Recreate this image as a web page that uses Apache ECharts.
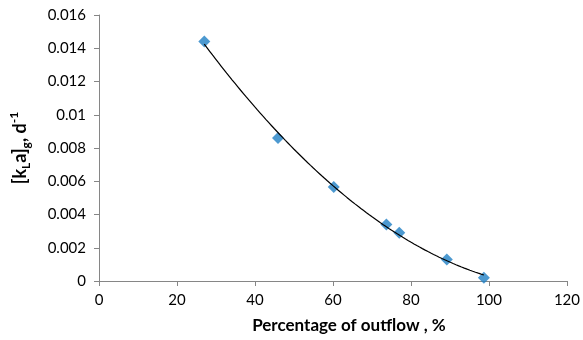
<!DOCTYPE html>
<html><head><meta charset="utf-8">
<script src="https://cdn.jsdelivr.net/npm/echarts@6/dist/echarts.min.js"></script>
<style>html,body{margin:0;padding:0;background:#fff}#c{width:583px;height:340px}</style>
</head><body><div id="c"></div>
<script>
const outflow = [27.0, 45.9, 60.2, 73.7, 77.0, 89.2, 98.7];
const klag = [0.0144, 0.0086, 0.00566, 0.0034, 0.0029, 0.0013, 0.0002];
const xTicks = [0, 20, 40, 60, 80, 100, 120];
const yTicks = [0, 0.002, 0.004, 0.006, 0.008, 0.01, 0.012, 0.014, 0.016];

// quadratic least-squares trendline (like Excel polynomial trendline)
function polyfit(xs, ys, deg) {
  const n = deg + 1;
  const A = Array.from({length: n}, () => new Array(n + 1).fill(0));
  for (let k = 0; k < xs.length; k++) {
    for (let i = 0; i < n; i++) {
      for (let j = 0; j < n; j++) A[i][j] += Math.pow(xs[k], i + j);
      A[i][n] += ys[k] * Math.pow(xs[k], i);
    }
  }
  for (let i = 0; i < n; i++) {
    let p = i;
    for (let r = i + 1; r < n; r++) if (Math.abs(A[r][i]) > Math.abs(A[p][i])) p = r;
    [A[i], A[p]] = [A[p], A[i]];
    for (let r = 0; r < n; r++) {
      if (r === i) continue;
      const f = A[r][i] / A[i][i];
      for (let c = i; c <= n; c++) A[r][c] -= f * A[i][c];
    }
  }
  return A.map((row, i) => row[n] / row[i]);
}
const coef = polyfit(outflow, klag, 2);
const xMin = Math.min(...outflow), xMax = Math.max(...outflow);
const trend = [];
for (let i = 0; i <= 100; i++) {
  const x = xMin + (xMax - xMin) * i / 100;
  trend.push([x, coef[0] + coef[1] * x + coef[2] * x * x]);
}

const chart = echarts.init(document.getElementById('c'));
const font = 'Lato';
chart.setOption({
  animation: false,
  grid: {left: 96, right: 15, top: 15, bottom: 59},
  xAxis: {
    type: 'value', min: xTicks[0], max: xTicks[xTicks.length - 1], interval: 20,
    name: 'Percentage of outflow , %', nameLocation: 'middle', nameGap: 36,
    nameTextStyle: {fontFamily: font, fontSize: 17, fontWeight: 'bold', color: '#000', padding: [0, 0, 0, 32]},
    axisLine: {show: true, lineStyle: {color: '#868686'}},
    axisTick: {show: true, length: 5, lineStyle: {color: '#868686'}},
    axisLabel: {fontFamily: font, fontSize: 15, color: '#000', margin: 12},
    splitLine: {show: false}
  },
  yAxis: {
    type: 'value', min: yTicks[0], max: yTicks[yTicks.length - 1], interval: 0.002,
    name: '{b|[k}{sub|L}{b|a]}{sub|g}{b|, d}{sup|-1}', nameLocation: 'middle', nameGap: 67,
    nameTextStyle: {
      fontFamily: font, color: '#000',
      rich: {
        b: {fontFamily: font, fontSize: 18, fontWeight: 'bold', color: '#000', lineHeight: 24, verticalAlign: 'middle'},
        sub: {fontFamily: font, fontSize: 12, fontWeight: 'bold', color: '#000', lineHeight: 24, verticalAlign: 'bottom'},
        sup: {fontFamily: font, fontSize: 12, fontWeight: 'bold', color: '#000', lineHeight: 24, verticalAlign: 'top'}
      }
    },
    axisLine: {show: true, lineStyle: {color: '#868686'}},
    axisTick: {show: true, length: 5, lineStyle: {color: '#868686'}},
    axisLabel: {fontFamily: font, fontSize: 15, color: '#000', margin: 13},
    splitLine: {show: false}
  },
  series: [
    {type: 'line', data: trend, showSymbol: false, symbol: 'none', smooth: false,
     lineStyle: {color: '#000', width: 1.2}, z: 3},
    {type: 'scatter', data: outflow.map((x, i) => [x, klag[i]]), symbol: 'diamond', symbolSize: 12,
     itemStyle: {color: '#1f7fc4'}, z: 2}
  ]
});
</script></body></html>
